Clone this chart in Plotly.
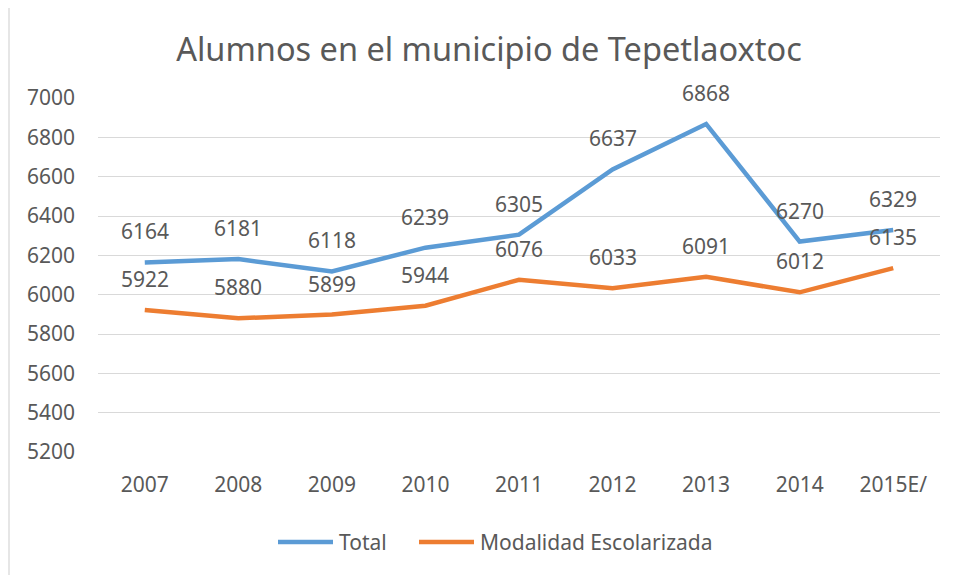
import plotly.graph_objects as go

years = ["2007", "2008", "2009", "2010", "2011", "2012", "2013", "2014", "2015E/"]
total = [6164, 6181, 6118, 6239, 6305, 6637, 6868, 6270, 6329]
escolarizada = [5922, 5880, 5899, 5944, 6076, 6033, 6091, 6012, 6135]
y_ticks = [5200, 5400, 5600, 5800, 6000, 6200, 6400, 6600, 6800, 7000]
series_names = ["Total", "Modalidad Escolarizada"]

FONT = "Noto Sans"
TXT = "#595959"
BLUE = "#5B9BD5"
ORANGE = "#ED7D31"

# page body margin shifts the figure; compensate
OFF = 8
W, H = 956, 575
# plot area in screen pixels
SL, SR, ST, SB = 98, 940, 98, 452
L, R, T, B = SL - OFF, SR - OFF, ST - OFF, SB - OFF


def px_x(p):
    return (p - SL) / (SR - SL)


def px_y(p):
    return (SB - p) / (SB - ST)


fig = go.Figure()
fig.add_trace(go.Scatter(x=years, y=total, mode="lines", name=series_names[0],
                         line=dict(color=BLUE, width=4.5), showlegend=False))
fig.add_trace(go.Scatter(x=years, y=escolarizada, mode="lines", name=series_names[1],
                         line=dict(color=ORANGE, width=4.5), showlegend=False))

annotations = []
for series in (total, escolarizada):
    for i, yv in enumerate(series):
        annotations.append(dict(x=i, y=yv, xref="x", yref="y", text=str(yv),
                                showarrow=False, yshift=31,
                                font=dict(family=FONT, size=21, color=TXT)))

legend_items = [(series_names[0], BLUE, 278, 333, 337), (series_names[1], ORANGE, 419, 474, 478)]
shapes = [dict(type="rect", xref="paper", yref="paper",
               x0=px_x(9), x1=px_x(990), y0=px_y(620), y1=px_y(5),
               line=dict(color="#D9D9D9", width=1.3), fillcolor="rgba(0,0,0,0)",
               layer="below")]
for name, col, x0, x1, tx in legend_items:
    shapes.append(dict(type="line", xref="paper", yref="paper",
                       x0=px_x(x0), x1=px_x(x1), y0=px_y(542), y1=px_y(542),
                       line=dict(color=col, width=4.5)))
    annotations.append(dict(x=px_x(tx), y=px_y(542), xref="paper", yref="paper",
                            xanchor="left", yanchor="middle", text=name, showarrow=False,
                            font=dict(family=FONT, size=21, color=TXT)))

fig.update_layout(
    width=W, height=H,
    margin=dict(l=L, r=W - R, t=T, b=H - B, autoexpand=False),
    paper_bgcolor="white", plot_bgcolor="white",
    font=dict(family=FONT, size=21, color=TXT),
    showlegend=False,
    title=dict(text="Alumnos en el municipio de Tepetlaoxtoc",
               x=(489 - OFF) / W, xref="container", xanchor="center",
               y=1 - (50 - OFF) / H, yref="container", yanchor="middle",
               font=dict(family=FONT, size=32.5, color=TXT)),
    xaxis=dict(type="category", range=[-0.5, 8.5], showgrid=False, zeroline=False,
               showline=False, ticks="", ticklabelstandoff=18, automargin=False,
               tickfont=dict(family=FONT, size=21, color=TXT)),
    yaxis=dict(range=[5200, 7000], tickvals=y_ticks, showgrid=True, gridcolor="#D9D9D9",
               gridwidth=1.3, zeroline=False, showline=False, ticks="",
               ticklabelstandoff=22, automargin=False,
               tickfont=dict(family=FONT, size=21, color=TXT)),
    annotations=annotations,
    shapes=shapes,
)

fig.write_html("out.html")
